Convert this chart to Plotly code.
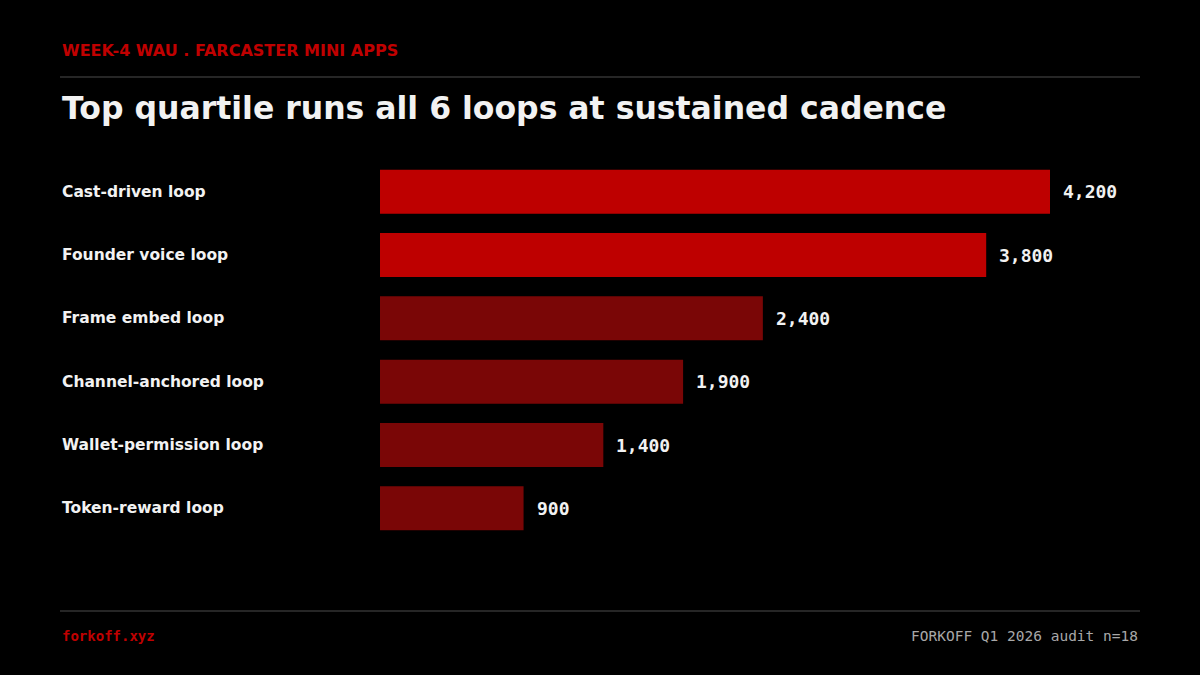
import plotly.graph_objects as go

categories = ["Cast-driven loop", "Founder voice loop", "Frame embed loop",
              "Channel-anchored loop", "Wallet-permission loop", "Token-reward loop"]
values = [4200, 3800, 2400, 1900, 1400, 900]
value_labels = ["4,200", "3,800", "2,400", "1,900", "1,400", "900"]
bar_colors = ["#BE0000", "#BE0000", "#7A0606", "#7A0606", "#7A0606", "#7A0606"]

W, H = 1200, 675
L, R = 380, 1140
T, B = 160, 540

fig = go.Figure()
fig.add_trace(go.Bar(
    x=values, y=categories, orientation="h",
    marker=dict(color=bar_colors, line=dict(width=0)),
    hoverinfo="skip",
))

for c, v, lab in zip(categories, values, value_labels):
    fig.add_annotation(x=v, y=c, xref="x", yref="y", text=lab, showarrow=False,
                       xanchor="left", xshift=11,
                       font=dict(family="DejaVu Sans Mono", size=18, color="#F2F2F2", weight="bold"))
    fig.add_annotation(x=(60 - L) / (R - L), y=c, xref="paper", yref="y", text=c,
                       showarrow=False, xanchor="left",
                       font=dict(family="DejaVu Sans", size=15.5, color="#F2F2F2", weight="bold"))

def px_to_paper(px, py):
    return (px - L) / (R - L), (B - py) / (B - T)

x0, y0 = px_to_paper(60, 50)
fig.add_annotation(x=x0, y=y0, xref="paper", yref="paper", text="WEEK-4 WAU . FARCASTER MINI APPS",
                   showarrow=False, xanchor="left", yanchor="middle",
                   font=dict(family="DejaVu Sans", size=16, color="#C00000", weight="bold"))
x0, y0 = px_to_paper(60, 108)
fig.add_annotation(x=x0, y=y0, xref="paper", yref="paper",
                   text="Top quartile runs all 6 loops at sustained cadence",
                   showarrow=False, xanchor="left", yanchor="middle",
                   font=dict(family="DejaVu Sans", size=31.5, color="#F2F2F2", weight="bold"))
x0, y0 = px_to_paper(60, 636)
fig.add_annotation(x=x0, y=y0, xref="paper", yref="paper", text="forkoff.xyz",
                   showarrow=False, xanchor="left", yanchor="middle",
                   font=dict(family="DejaVu Sans Mono", size=14, color="#C00000", weight="bold"))
x0, y0 = px_to_paper(1140, 636)
fig.add_annotation(x=x0, y=y0, xref="paper", yref="paper", text="FORKOFF Q1 2026 audit n=18",
                   showarrow=False, xanchor="right", yanchor="middle",
                   font=dict(family="DejaVu Sans Mono", size=14.5, color="#A8A8A8"))

for yy in [77, 611]:
    xa, ya = px_to_paper(60, yy)
    fig.add_shape(type="line", xref="paper", yref="paper",
                  x0=xa, x1=1.0, y0=ya, y1=ya,
                  line=dict(color="#333333", width=1.5))

xmax = 4200 * (R - L) / (1050 - L)
fig.update_layout(
    width=W, height=H,
    margin=dict(l=L, r=W - R, t=T, b=H - B, pad=0),
    paper_bgcolor="#000000", plot_bgcolor="#000000",
    showlegend=False, bargap=0.305,
    xaxis=dict(range=[0, xmax], visible=False, fixedrange=True),
    yaxis=dict(categoryorder="array", categoryarray=categories, autorange="reversed",
               showticklabels=False, showgrid=False, zeroline=False, fixedrange=True),
)

fig.write_html("out.html", config={"displayModeBar": False})
